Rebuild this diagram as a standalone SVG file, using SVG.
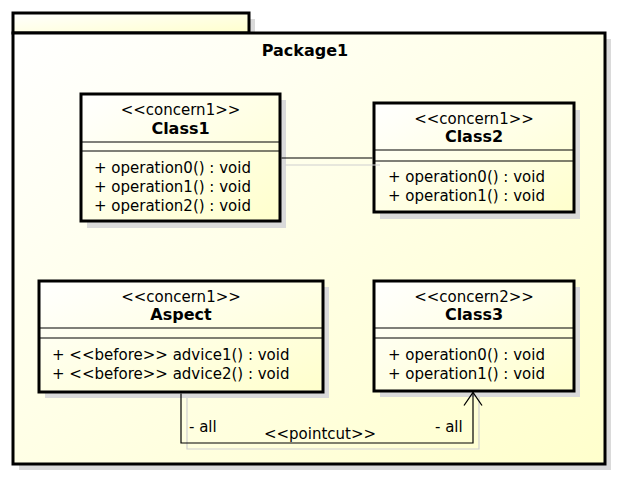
<svg xmlns="http://www.w3.org/2000/svg" width="617" height="478" viewBox="0 0 617 478">
<defs>
<linearGradient id="g" x1="0" y1="0" x2="1" y2="1">
<stop offset="0" stop-color="#ffffff"/>
<stop offset="1" stop-color="#ffffcc"/>
</linearGradient>
<marker id="open" markerWidth="26" markerHeight="26" refX="13" refY="13" orient="auto" markerUnits="userSpaceOnUse">
<path d="M0,4 L13,13 L0,22" fill="none" stroke="#000" stroke-width="1.3"/>
</marker>
</defs>
<style>
.sh{fill:#dadada;stroke:none}
.box{fill:url(#g);stroke:#000;stroke-width:3}
.ln{stroke:#000;stroke-width:1.2}
text{font-family:"DejaVu Sans",sans-serif;font-size:15px;fill:#000}
.c{text-anchor:middle}
.b{font-weight:bold;font-size:16px}
.con{fill:none;stroke:#000;stroke-width:1.2}
.cons{fill:none;stroke:#d0d0d0;stroke-width:1.2}
</style>
<rect width="617" height="478" fill="#fff"/>
<g id="Package1">
<rect class="sh" x="19" y="19" width="236" height="20"/>
<rect class="sh" x="19" y="39" width="592" height="431"/>
<rect class="box" x="13" y="13" width="236" height="20"/>
<rect class="box" x="13" y="33" width="592" height="431"/>
<text class="c b" x="305" y="56">Package1</text>
</g>
<g id="Class1">
<rect class="sh" x="87" y="100" width="199" height="128"/>
<rect class="box" x="81" y="94" width="199" height="127"/>
<line class="ln" x1="81" y1="142" x2="280" y2="142"/>
<line class="ln" x1="81" y1="151" x2="280" y2="151"/>
<text class="c" x="180.5" y="115">&lt;&lt;concern1&gt;&gt;</text>
<text class="c b" x="180.5" y="134">Class1</text>
<text x="94" y="173">+ operation0() : void</text>
<text x="94" y="192">+ operation1() : void</text>
<text x="94" y="211">+ operation2() : void</text>
</g>
<g id="Class2">
<rect class="sh" x="380" y="110" width="200" height="109"/>
<rect class="box" x="374" y="103" width="200" height="109"/>
<line class="ln" x1="374" y1="150" x2="574" y2="150"/>
<line class="ln" x1="374" y1="161" x2="574" y2="161"/>
<text class="c" x="474" y="124">&lt;&lt;concern1&gt;&gt;</text>
<text class="c b" x="474" y="142">Class2</text>
<text x="388" y="182">+ operation0() : void</text>
<text x="388" y="201">+ operation1() : void</text>
</g>
<g id="Aspect">
<rect class="sh" x="45" y="287" width="284" height="111"/>
<rect class="box" x="39" y="281" width="284" height="111"/>
<line class="ln" x1="39" y1="328" x2="323" y2="328"/>
<line class="ln" x1="39" y1="338" x2="323" y2="338"/>
<text class="c" x="181" y="302">&lt;&lt;concern1&gt;&gt;</text>
<text class="c b" x="181" y="320">Aspect</text>
<text x="52" y="360">+ &lt;&lt;before&gt;&gt; advice1() : void</text>
<text x="52" y="379">+ &lt;&lt;before&gt;&gt; advice2() : void</text>
</g>
<g id="Class3">
<rect class="sh" x="380" y="287" width="200" height="110"/>
<rect class="box" x="374" y="281" width="200" height="110"/>
<line class="ln" x1="374" y1="328" x2="574" y2="328"/>
<line class="ln" x1="374" y1="338" x2="574" y2="338"/>
<text class="c" x="474" y="302">&lt;&lt;concern2&gt;&gt;</text>
<text class="c b" x="474" y="320">Class3</text>
<text x="388" y="360">+ operation0() : void</text>
<text x="388" y="379">+ operation1() : void</text>
</g>
<g id="connectors">
<line class="cons" x1="285" y1="165" x2="380" y2="165"/>
<polyline class="cons" points="187,398 187,449 479,449 479,397"/>
<line class="con" x1="281.5" y1="158" x2="372.5" y2="158"/>
<polyline class="con" points="181,393.5 181,443 473,443 473,392.5" marker-end="url(#open)"/>
<text x="189" y="432">- all</text>
<text class="c" x="320" y="439">&lt;&lt;pointcut&gt;&gt;</text>
<text x="435" y="432">- all</text>
</g>
</svg>
